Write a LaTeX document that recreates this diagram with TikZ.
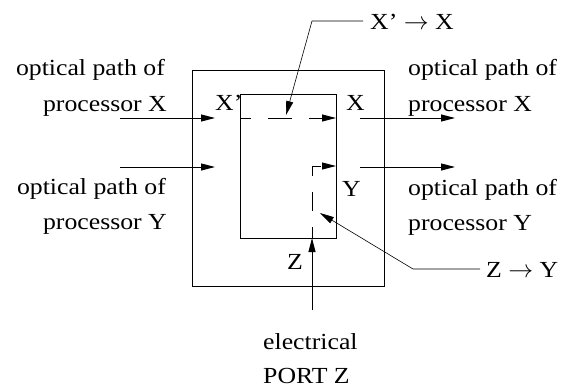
\documentclass[tikz,border=0pt]{standalone}
\usepackage{fontspec}
\setmainfont{Liberation Serif}[FakeStretch=1.12]
\usetikzlibrary{arrows.meta}
\begin{document}
\begin{tikzpicture}[x=1pt,y=-1pt,
  every node/.style={inner sep=0pt, font=\fontsize{23}{28}\selectfont},
  box/.style={draw, line width=1pt, inner sep=0pt},
  flow/.style={line width=1pt, -{Triangle[length=14pt,width=7pt]}},
  leader/.style={line width=0.6pt, -{Triangle[length=14pt,width=7pt]}},
  dashx/.style={dash pattern=on 24pt off 17pt, dash phase=13pt},
  dashz/.style={dash pattern=on 19pt off 16pt, dash phase=8pt}]
\useasboundingbox (0,0) rectangle (563,388);
% boxes
\node[box, minimum width=192pt, minimum height=216pt] (outer) at (288,178) {};
\node[box, minimum width=96pt, minimum height=144pt] (inner) at (288,166) {};
% texts
\node[anchor=base east] (lx1) at (165,75) {optical path of};
\node[anchor=base east] (lx2) at (167,111) {processor X};
\node[anchor=base east] (ly1) at (166,194) {optical path of};
\node[anchor=base east] (ly2) at (167,229) {processor Y};
\node[anchor=base west] (rx1) at (408,75) {optical path of};
\node[anchor=base west] (rx2) at (408,111) {processor X};
\node[anchor=base west] (ry1) at (408,195) {optical path of};
\node[anchor=base west] (ry2) at (408,230) {processor Y};
\node[anchor=base west] (e1) at (263,349) {electrical};
\node[anchor=base west] (e2) at (263,383) {PORT Z};
\node[anchor=base west] (xp) at (215,110) {X’};
\node[anchor=base west] (xr) at (346,110) {X};
\node[anchor=base west] (yr) at (342,196) {Y};
\node[anchor=base west] (zl) at (287,269) {Z};
\node[anchor=base west] (cxx) at (370,29) {X’ $\rightarrow$ X};
\node[anchor=base west] (czy) at (486,277) {Z $\rightarrow$ Y};
% coordinates
\coordinate (ax0) at (120,118); \coordinate (ax1) at (215,118);
\coordinate (ay0) at (120,167); \coordinate (ay1) at (215,167);
\coordinate (bx0) at (360,118); \coordinate (bx1) at (455,118);
\coordinate (by0) at (360,167); \coordinate (by1) at (455,167);
\coordinate (ix0) at (240,118); \coordinate (ix1) at (336,118);
\coordinate (iz0) at (312,238); \coordinate (izc) at (312,166); \coordinate (iz1) at (336,166);
\coordinate (pz) at (312,310);
\coordinate (lx0) at (363,21); \coordinate (lxc) at (312,21); \coordinate (lxt) at (286,115);
\coordinate (lz0) at (480,269); \coordinate (lzc) at (413,269); \coordinate (lzt) at (320,213);
% optical paths
\draw[flow] (ax0) -- (ax1);
\draw[flow] (ay0) -- (ay1);
\draw[flow] (bx0) -- (bx1);
\draw[flow] (by0) -- (by1);
\draw[flow, dashx] (ix0) -- (ix1);
\draw[flow, dashz] (iz0) -- (izc) -- (iz1);
\draw[flow] (pz) -- (iz0);
% leaders
\draw[leader] (lx0) -- (lxc) -- (lxt);
\draw[leader] (lz0) -- (lzc) -- (lzt);
\end{tikzpicture}
\end{document}
